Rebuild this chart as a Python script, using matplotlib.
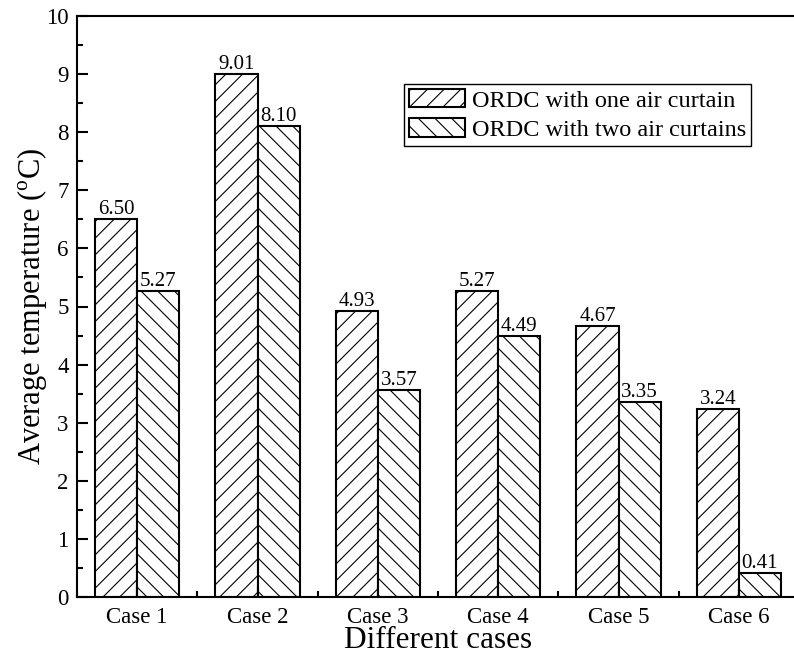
import numpy as np
import matplotlib
matplotlib.use('Agg')
import matplotlib.pyplot as plt
from matplotlib.ticker import MultipleLocator

plt.rcParams['font.family'] = ['Liberation Serif', 'DejaVu Serif']
plt.rcParams['mathtext.fontset'] = 'custom'
plt.rcParams['mathtext.rm'] = 'Liberation Serif'
plt.rcParams['hatch.linewidth'] = 0.8

# дані
cases = ['Case 1', 'Case 2', 'Case 3', 'Case 4', 'Case 5', 'Case 6']
one_curtain = [6.50, 9.01, 4.93, 5.27, 4.67, 3.24]
two_curtains = [5.27, 8.10, 3.57, 4.49, 3.35, 0.41]
labels = ['ORDC with one air curtain', 'ORDC with two air curtains']

fig = plt.figure(figsize=(7.94, 6.63), dpi=100)
ax = fig.add_axes([77/794, 66/663, 722/794, 581/663])

x = np.arange(1, len(cases) + 1)
w = 0.35
b1 = ax.bar(x - w/2, one_curtain, w, color='white', edgecolor='black',
            linewidth=1.5, hatch='//', label=labels[0])
b2 = ax.bar(x + w/2, two_curtains, w, color='white', edgecolor='black',
            linewidth=1.5, hatch='\\\\', label=labels[1])

for bars, vals in ((b1, one_curtain), (b2, two_curtains)):
    for r, v in zip(bars, vals):
        ax.text(r.get_x() + r.get_width()/2, v, '%.2f' % v,
                ha='center', va='bottom', fontsize=15)

ax.set_xlim(0.5, 6.5)
ax.set_ylim(0, 10)
ax.set_xticks(x)
ax.set_xticklabels(cases)
ax.xaxis.set_minor_locator(MultipleLocator(1, offset=0.5))
ax.yaxis.set_major_locator(MultipleLocator(1))
ax.yaxis.set_minor_locator(MultipleLocator(0.5))
ax.tick_params(which='major', direction='in', length=8, width=1.5,
               labelsize=16.5, top=False, right=False)
ax.tick_params(which='minor', direction='in', length=4, width=1.5,
               top=False, right=False)
ax.tick_params(axis='x', which='major', pad=7)
ax.tick_params(axis='y', which='major', pad=6)
for s in ax.spines.values():
    s.set_linewidth(1.5)

ax.set_xlabel('Different cases', fontsize=22.5, labelpad=-1)
ax.set_ylabel('Average temperature ($^\\mathregular{o}$C)', fontsize=22, labelpad=-2)

leg = ax.legend(loc='upper left', bbox_to_anchor=(0.453, 0.883), fontsize=17.5,
                fancybox=False, edgecolor='black', framealpha=1,
                handlelength=2.3, handleheight=0.8, handletextpad=0.3,
                borderpad=0.2, labelspacing=0.28, borderaxespad=0)
leg.get_frame().set_linewidth(1.0)

fig.savefig('out.png', dpi=100)
